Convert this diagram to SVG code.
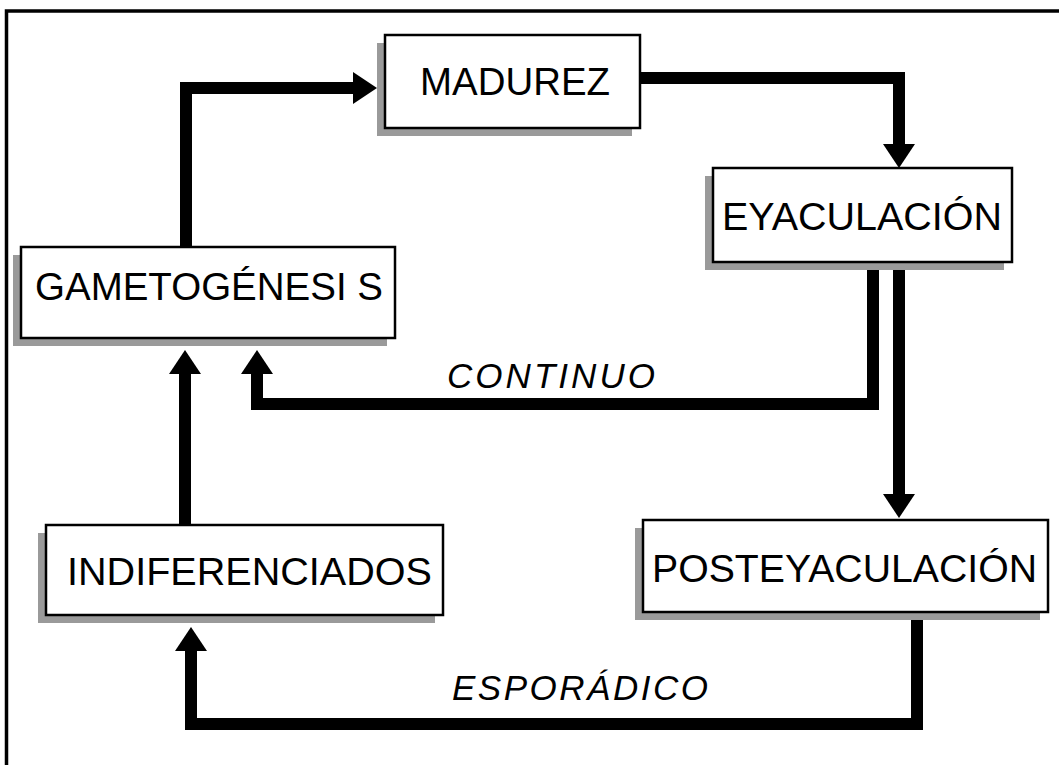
<svg xmlns="http://www.w3.org/2000/svg" width="1059" height="765" viewBox="0 0 1059 765">
<style>
.shadow{fill:#9a9a9a}
.box{fill:#fff;stroke:#000;stroke-width:2.5}
.lbl{font-family:"Liberation Sans",Arial,sans-serif;font-size:38px;fill:#000}
.it{font-family:"Liberation Sans",Arial,sans-serif;font-size:35px;font-style:italic;fill:#000}
.conn{fill:none;stroke:#000;stroke-width:12;stroke-linejoin:miter}
</style>
<defs>
<marker id="ah" markerUnits="userSpaceOnUse" markerWidth="26" markerHeight="34" refX="0" refY="16" orient="auto" overflow="visible">
<path d="M0,0 L24,16 L0,32 z" fill="#000"/>
</marker>
</defs>
<rect width="1059" height="765" fill="#fff"/>
<g id="frame">
<path d="M6.5,765 V11 H1059" fill="none" stroke="#000" stroke-width="3.5"/>
</g>
<g id="connectors">
<path class="conn" d="M186,247 V88 H353" marker-end="url(#ah)"/>
<path class="conn" d="M640,78 H899 V144" marker-end="url(#ah)"/>
<path class="conn" d="M873,262 V404 H257 V374" marker-end="url(#ah)"/>
<path class="conn" d="M899,262 V494" marker-end="url(#ah)"/>
<path class="conn" d="M185,525 V374" marker-end="url(#ah)"/>
<path class="conn" d="M917,612 V724 H191 V651" marker-end="url(#ah)"/>
<text class="it" x="447" y="388" textLength="208" lengthAdjust="spacing">CONTINUO</text>
<text class="it" x="452" y="700" textLength="256" lengthAdjust="spacing">ESPORÁDICO</text>
</g>
<g id="madurez">
<rect class="shadow" x="377" y="43" width="255" height="93"/>
<rect class="box" x="385" y="35" width="255" height="93"/>
<text class="lbl" x="420" y="95" textLength="190" lengthAdjust="spacingAndGlyphs">MADUREZ</text>
</g>
<g id="eyaculacion">
<rect class="shadow" x="705" y="176" width="299" height="94"/>
<rect class="box" x="713" y="168" width="299" height="94"/>
<text class="lbl" x="722" y="230" textLength="280" lengthAdjust="spacingAndGlyphs">EYACULACIÓN</text>
</g>
<g id="gametogenesis">
<rect class="shadow" x="13" y="255" width="374" height="91"/>
<rect class="box" x="21" y="247" width="374" height="91"/>
<text class="lbl" x="35" y="300" textLength="348" lengthAdjust="spacingAndGlyphs">GAMETOGÉNESI S</text>
</g>
<g id="posteyaculacion">
<rect class="shadow" x="635" y="528" width="405" height="92"/>
<rect class="box" x="643" y="520" width="405" height="92"/>
<text class="lbl" x="652" y="582" textLength="385" lengthAdjust="spacingAndGlyphs">POSTEYACULACIÓN</text>
</g>
<g id="indiferenciados">
<rect class="shadow" x="38" y="533" width="397" height="90"/>
<rect class="box" x="46" y="525" width="397" height="90"/>
<text class="lbl" x="67" y="585" textLength="365" lengthAdjust="spacingAndGlyphs">INDIFERENCIADOS</text>
</g>
</svg>
